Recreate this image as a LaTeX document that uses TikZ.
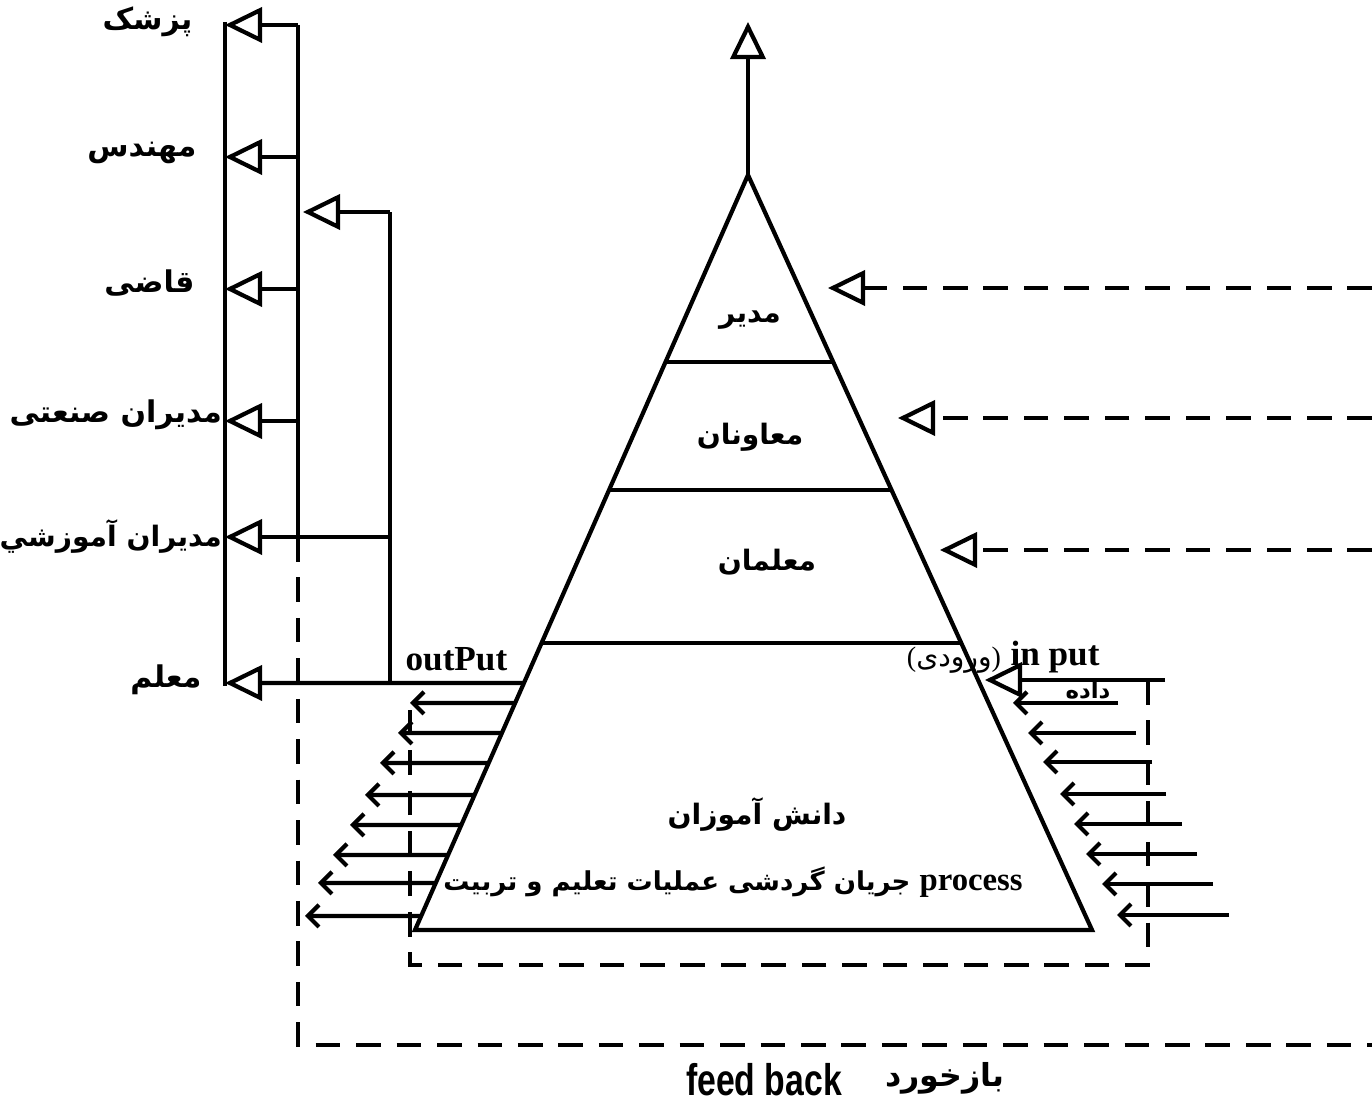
\documentclass[tikz,border=0pt]{standalone}
\usepackage{fontspec}
\usepackage{graphicx}
\newfontfamily\fafont[Script=Arabic]{DejaVu Sans}
\newfontfamily\latfont{Liberation Serif}
\newfontfamily\fbfont{Liberation Sans}
\TeXXeTstate=1
\usetikzlibrary{arrows.meta,calc}
\newcommand{\fa}[1]{{\fafont\beginR #1\endR}}

\begin{document}
\begin{tikzpicture}[
  x=0.01cm, y=-0.01cm,
  line width=1.2pt,
  every node/.style={inner sep=1pt},
  fa/.style={font=\fafont\bfseries\fontsize{8.5}{10}\selectfont},
  tier/.style={font=\fafont\bfseries\fontsize{8}{10}\selectfont},
  lat/.style={font=\latfont\bfseries\fontsize{10}{12}\selectfont},
  tri/.style={-{Triangle[open,length=3.7mm,width=3.5mm]}},
  barb/.style={-{Straight Barb[length=1.1mm,width=2.2mm]}},
  fb/.style={dash pattern=on 7pt off 4.5pt}
]
\useasboundingbox (0,0) rectangle (1372,1107);

% pyramid
\coordinate (apex) at (748,175);
\coordinate (bl) at (415,930);
\coordinate (br) at (1092,930);
\draw (apex) -- (bl) -- (br) -- cycle;
\foreach \t/\n in {0.2477/a,0.4172/b,0.6199/c}
  \draw ($(apex)!\t!(bl)$) coordinate (l\n) -- ($(apex)!\t!(br)$) coordinate (r\n);
\coordinate (top) at (748,22);
\draw[tri] (apex) -- (top);

\node[tier] (mgr) at (750,320) {\fa{مدیر}};
\node[tier] (deputies) at (750,437) {\fa{معاونان}};
\node[tier] (teachers) at (767,562) {\fa{معلمان}};
\node[tier] (students) at (757,815) {\fa{دانش آموزان}};
\node[tier,font=\fafont\bfseries\fontsize{7.4}{9}\selectfont] (process) at (733,882) {\fa{\beginL{\latfont\bfseries\fontsize{9.3}{11}\selectfont process}\endL{} جریان گردشی عملیات تعلیم و تربیت}};

% outputs
\coordinate (otop) at (225,22);
\coordinate (obot) at (225,686);
\draw (otop) -- (obot);
\foreach \y/\n in {25/1,157/2,289/3,421/4} {
  \coordinate (tip\n) at (225,\y);
  \coordinate (hub\n) at (298,\y);
  \draw[tri] (hub\n) -- (tip\n);
}
\draw (hub1) -- (298,537) coordinate (hub5a);
\coordinate (tip5) at (225,537);
\coordinate (hub5) at (390,537);
\draw[tri] (hub5) -- (tip5);
\coordinate (tip6) at (225,683);
\coordinate (hub6) at ($(apex)!0.6728!(bl)$);
\draw[tri] (hub6) -- (tip6);
\coordinate (brtop) at (390,212);
\coordinate (brtip) at (303,212);
\draw (390,683) -- (brtop);
\draw[tri] (brtop) -- (brtip);

\node[fa,anchor=east] (doc) at (198,22) {\fa{پزشک}};
\node[fa,anchor=east] (eng) at (202,153) {\fa{مهندس}};
\node[fa,anchor=east] (judge) at (200,283) {\fa{قاضی}};
\node[fa,anchor=east,inner sep=0pt] (indmgr) at (224,415) {\fa{مدیران صنعتی}};
\node[fa,anchor=east,inner sep=0pt,font=\fafont\bfseries\fontsize{8}{10}\selectfont] (edumgr) at (224,537) {\fa{مدیران آموزشي}};
\node[fa,anchor=east] (teacher) at (207,680) {\fa{معلم}};
\node[lat,anchor=south west] (outlbl) at (400,677) {outPut};

\foreach \y/\b in {703/410,733/398,763/380,795/365,825/350,855/333,883/318,916/305} {
  \pgfmathsetmacro\t{(\y-175)/755}
  \coordinate (os) at ($(apex)!\t!(bl)$);
  \coordinate (oe) at (\b,\y);
  \draw[barb] (os) -- (oe);
}

% inputs
\coordinate (in0) at (1165,680);
\coordinate (intip) at (985,680);
\draw[tri] (in0) -- (intip);
\node[lat] (inlbl) at (1055,657) {in put};
\node[font=\fafont\fontsize{8}{10}\selectfont] (inlblfa) at (954,660) {{\latfont(}\fa{ورودی}{\latfont)}};
\node[font=\fafont\bfseries\fontsize{6.5}{8}\selectfont] (data) at (1088,690) {\fa{داده}};
\foreach \y/\a/\b in {703/1118/1013,733/1136/1028,762/1152/1043,794/1166/1060,824/1182/1074,854/1197/1086,884/1213/1102,915/1229/1117} {
  \coordinate (is) at (\a,\y);
  \coordinate (ie) at (\b,\y);
  \draw[barb] (is) -- (ie);
}
\draw[fb] (1148,680) -- (1148,965) -- (410,965) -- (410,702);

% feedback
\draw[fb] (hub5a) -- (298,1045) -- (1372,1045);
\foreach \y/\x/\n in {288/828/1,418/898/2,550/940/3} {
  \coordinate (fin\n) at (\x,\y);
  \coordinate (fout\n) at (1372,\y);
  \draw[fb,tri] (fout\n) -- (fin\n);
}
\node (fbk) at (764,1080) {\scalebox{0.8}[1.05]{\fbfont\bfseries\fontsize{12}{14}\selectfont feed back}};
\node[fa,font=\fafont\bfseries\fontsize{9}{11}\selectfont] (fbkfa) at (945,1078) {\fa{بازخورد}};
\end{tikzpicture}
\end{document}
